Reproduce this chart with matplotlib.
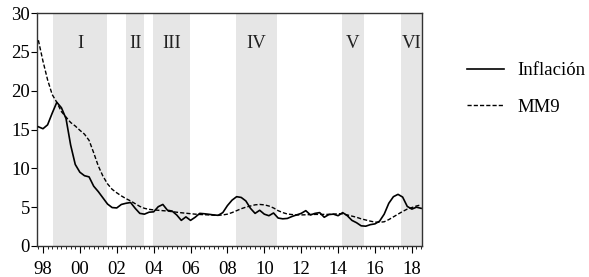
import matplotlib
matplotlib.use("Agg")
import matplotlib.pyplot as plt
from matplotlib.ticker import MultipleLocator
import numpy as np
import pandas as pd

# Quarterly observations starting 1997Q4
start_period = "1997Q4"

inflacion = [15.35, 15.1, 15.6, 17.1, 18.5, 17.8, 16.4, 13.0, 10.5, 9.5,
             9.05, 8.9, 7.7, 7.0, 6.2, 5.4, 4.95, 4.9, 5.35, 5.5,
             5.6, 4.85, 4.2, 4.1, 4.35, 4.4, 5.06, 5.35, 4.6, 4.5,
             4.0, 3.3, 3.75, 3.3, 3.7, 4.2, 4.15, 4.08, 4.0, 3.95,
             4.3, 5.2, 5.9, 6.35, 6.25, 5.8, 4.85, 4.2, 4.6, 4.1,
             3.9, 4.25, 3.6, 3.5, 3.55, 3.8, 4.0, 4.2, 4.55, 4.0,
             4.2, 4.3, 3.7, 4.05, 4.1, 3.9, 4.3, 3.9, 3.3, 3.0,
             2.6, 2.55, 2.75, 2.85, 3.2, 4.1, 5.5, 6.35, 6.65, 6.3,
             5.1, 4.75, 5.0, 4.85]

mm9 = [26.5, 23.8, 21.4, 19.5, 18.5, 17.3, 16.6, 15.9, 15.45, 14.9,
       14.4, 13.6, 12.0, 10.3, 9.0, 8.0, 7.3, 6.85, 6.45, 6.1,
       5.8, 5.45, 5.1, 4.85, 4.72, 4.65, 4.6, 4.55, 4.5, 4.42,
       4.35, 4.28, 4.22, 4.16, 4.1, 4.06, 4.03, 4.0, 3.97, 3.95,
       4.0, 4.1, 4.3, 4.55, 4.8, 5.0, 5.15, 5.3, 5.35, 5.3,
       5.15, 4.9, 4.55, 4.3, 4.12, 4.05, 4.0, 4.0, 4.02, 4.05,
       4.07, 4.07, 4.07, 4.07, 4.1, 4.15, 4.15, 4.0, 3.85, 3.7,
       3.5, 3.35, 3.2, 3.08, 3.05, 3.12, 3.4, 3.75, 4.1, 4.45,
       4.75, 4.95, 5.15, 5.3]

# Shaded periods (decimal years) and their labels
period_labels = ["I", "II", "III", "IV", "V", "VI"]
period_starts = [1998.53, 2002.50, 2003.98, 2008.46, 2014.19, 2017.40]
period_ends = [2001.49, 2003.49, 2005.97, 2010.70, 2015.40, 2018.60]

tick_years = list(range(1998, 2019, 2))
tick_labels = ["98", "00", "02", "04", "06", "08", "10", "12", "14", "16", "18"]

series_names = ["Inflación", "MM9"]

periods = pd.period_range(start_period, periods=len(inflacion), freq="Q")
x = np.asarray(periods.year + (periods.quarter - 1) / 4.0, dtype=float)

plt.rcParams["font.family"] = ["Liberation Serif", "DejaVu Serif"]
fs = 13.5

fig = plt.figure(figsize=(5.89, 2.77), dpi=100)
ax = fig.add_axes([36.7 / 589, 1 - 246 / 277, (422 - 36.7) / 589, (246 - 13) / 277])

x0, x1 = 1997.66, 2018.55
for s, e, lab in zip(period_starts, period_ends, period_labels):
    ax.axvspan(s, min(e, x1), color="#e6e6e6", lw=0, zorder=0)
    ax.text((s + min(e, x1)) / 2, 26.1, lab, ha="center", va="center",
            fontsize=fs, color="#222222")

l1, = ax.plot(x, inflacion, color="black", lw=1.2, label=series_names[0], zorder=3)
l2, = ax.plot(x, mm9, color="black", lw=1.0, ls=(0, (3, 1.5)), label=series_names[1], zorder=3)

ax.set_xlim(x0, x1)
ax.set_ylim(0, 30)
ax.set_yticks(range(0, 31, 5))
ax.set_xticks(tick_years)
ax.set_xticklabels(tick_labels)
ax.xaxis.set_minor_locator(MultipleLocator(0.25))
ax.tick_params(axis="x", which="major", direction="out", length=5, width=0.8, pad=6, labelsize=fs)
ax.tick_params(axis="x", which="minor", direction="out", length=2.5, width=0.6)
ax.tick_params(axis="y", which="major", direction="out", length=4, width=0.8, pad=1, labelsize=fs)
for sp in ax.spines.values():
    sp.set_linewidth(1.0)
    sp.set_color("#333333")

fig.legend(handles=[l1, l2], loc="upper left", bbox_to_anchor=(467 / 589, 1 - 62 / 277),
           frameon=False, fontsize=fs, handlelength=1.95, handletextpad=0.75,
           labelspacing=1.05, borderpad=0, borderaxespad=0)

fig.savefig("out.png", dpi=100)
